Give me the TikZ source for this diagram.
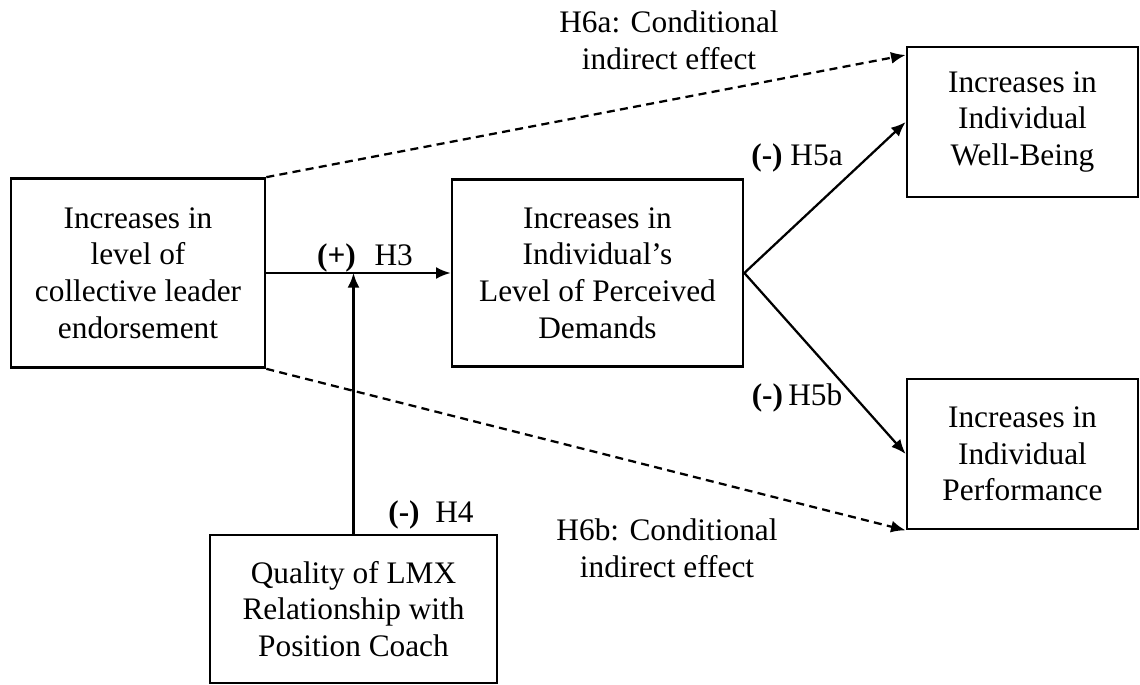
\documentclass[tikz,border=0pt]{standalone}
\usepackage{fontspec}
\setmainfont{Liberation Serif}
\usepackage{tikz}
\usetikzlibrary{arrows.meta}

\tikzset{
  box/.style={draw, line width=2pt, align=center, inner sep=0pt,
    font=\fontsize{23.5}{27.5}\selectfont},
  lbl/.style={align=center, inner sep=0pt, font=\fontsize{23.5}{27.5}\selectfont},
  arr/.style={line width=1.7pt, -{Latex[length=11pt,width=9pt]}},
  dasharr/.style={arr, dash pattern=on 6pt off 4pt}
}

\begin{document}
\begin{tikzpicture}[x=0.75pt,y=-0.75pt]
  \useasboundingbox (0,0) rectangle (1140,685);
  % boxes
  \node[box, minimum width=190.5pt, minimum height=141.75pt] (L) at (138,273)
    {Increases in\\level of\\collective leader\\endorsement};
  \node[box, minimum width=218.25pt, minimum height=140.25pt] (M) at (597.5,273)
    {Increases in\\Individual's\\Level of Perceived\\Demands};
  \node[box, minimum width=173.25pt, minimum height=112.5pt] (A) at (1022.5,122)
    {Increases in\\Individual\\Well-Being};
  \node[box, minimum width=173.25pt, minimum height=112.5pt] (B) at (1022.5,454)
    {Increases in\\Individual\\Performance};
  \node[box, minimum width=215.25pt, minimum height=111pt] (C) at (353.5,609)
    {Quality of LMX\\Relationship with\\Position Coach};
  % paths
  \draw[arr] (L.east) -- (M.west);
  \draw[arr] (C.north) -- (C.north |- L.east);
  \draw[arr] (M.east) -- (A.west);
  \draw[arr] (M.east) -- (B.west);
  \draw[dasharr] (L.north east) -- ([yshift=-7pt]A.north west);
  \draw[dasharr] (L.south east) -- (B.south west);
  % labels
  \node[lbl] (h3) at (365,258) {\textbf{(+)}\hspace{0.6em}H3};
  \node[lbl] (h4) at (431,515) {\textbf{(-)}\hspace{0.5em}H4};
  \node[lbl] (h5a) at (797,158) {\textbf{(-)} H5a};
  \node[lbl] (h5b) at (797,398) {\textbf{(-)}\,H5b};
  \node[lbl] (h6a) at (669,40) {H6a: Conditional\\indirect effect};
  \node[lbl] (h6b) at (667,548) {H6b: Conditional\\indirect effect};
\end{tikzpicture}
\end{document}
